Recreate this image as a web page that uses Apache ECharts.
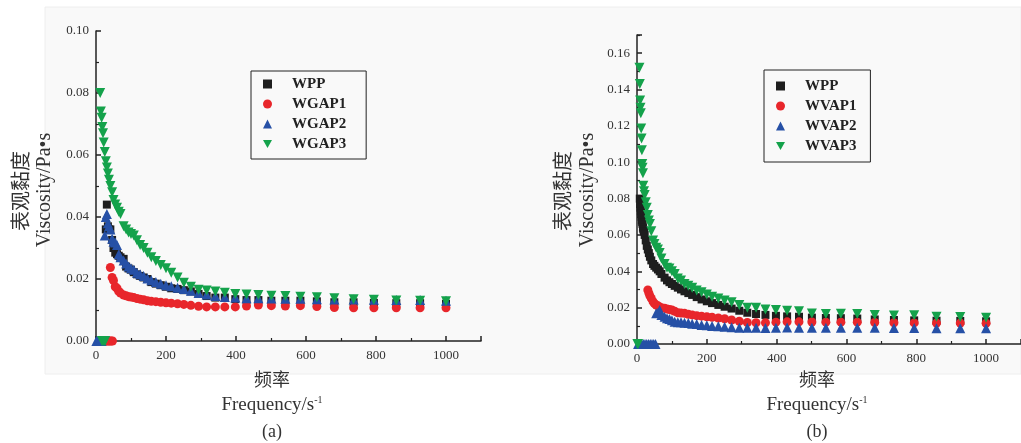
<!DOCTYPE html>
<html><head><meta charset="utf-8">
<script src="https://cdn.jsdelivr.net/npm/echarts@6/dist/echarts.min.js"></script>
<style>html,body{margin:0;padding:0;background:#fff}#c{width:1021px;height:443px}</style>
</head><body><div id="c"></div>
<script>
// ---- Panel (a) data ----
const freqA = [12,14,16,18,20,22,25,28,31,34,37,41,46,50,55,60,65,70,79,86,93,100,108,117,126,136,147,158,171,185,200,215,233,251,271,293,316,341,368,398,430,464,501,541,584,631,681,736,794,858,926,1000];
const wppA = [null,null,null,null,null,null,null,0.036,0.044,0.037,
 0.036,0.036,0.0326,0.030,0.0285,0.028,0.0275,0.027,0.0265,0.024,
 0.0234,0.023,0.0222,0.0215,0.021,0.0205,0.020,0.019,0.0185,0.018,
 0.0175,0.017,0.0168,0.0164,0.016,0.0152,0.0145,0.014,0.014,0.0135,
 0.0132,0.0132,0.013,0.013,0.013,0.0128,0.0125,0.0125,0.0123,0.0122,
 0.0122,0.012];
const wgap1 = [null,null,null,null,null,null,null,null,null,null,
 null,0.0237,0.0205,0.0195,0.0175,0.017,0.016,0.0155,0.0148,0.0146,
 0.0143,0.0142,0.014,0.0137,0.0135,0.0133,0.013,0.0128,0.0127,0.0125,
 0.0123,0.0122,0.012,0.0118,0.0115,0.0112,0.011,0.011,0.011,0.011,
 0.0113,0.0116,0.0114,0.0113,0.0114,0.0111,0.0108,0.0107,0.0107,0.0107,
 0.0107,0.0107];
const wgap2 = [null,null,null,null,null,null,0.034,0.040,0.041,0.038,
 0.037,0.036,0.033,0.032,0.0318,0.031,0.028,0.027,0.026,0.025,
 0.024,0.0235,0.023,0.022,0.0215,0.021,0.0202,0.0196,0.019,0.0185,
 0.018,0.0177,0.0172,0.0168,0.0162,0.0155,0.015,0.0145,0.0142,0.014,
 0.0138,0.0138,0.0137,0.0136,0.0136,0.0135,0.0134,0.0134,0.0133,0.0132,
 0.0132,0.013];
const wgap3 = [0.080,0.074,0.072,0.069,0.067,0.064,0.061,0.058,0.056,0.054,
 0.052,0.050,0.048,0.0455,0.044,0.043,0.0417,0.041,0.037,0.036,
 0.035,0.0345,0.034,0.0325,0.031,0.030,0.0285,0.027,0.0258,0.0245,
 0.0235,0.022,0.0205,0.0188,0.0175,0.0165,0.0163,0.016,0.0156,0.0152,
 0.015,0.0148,0.0146,0.0145,0.0143,0.0141,0.0138,0.0135,0.0133,0.0131,
 0.013,0.0128];
const zeroA_wgap1 = [27,31,35,39,43,47];
const zeroA_wgap2 = [1,4,8,12,16];
const zeroA_wgap3 = [17,20,23,26];

// ---- Panel (b) data ----
const freqB = [7,8,9,10,11,12,13,14,15,16,17,18,20,22,25,28,31,34,37,41,46,50,55,60,65,70,79,86,93,100,108,117,126,136,147,158,171,185,200,215,233,251,271,293,316,341,368,398,430,464,501,541,584,631,681,736,794,858,926,1000];
const wppB = [null,0.080,0.077,0.075,0.073,0.072,0.070,0.068,0.067,0.066,
 0.064,0.063,0.062,0.060,0.057,0.054,0.052,0.050,0.048,0.046,
 0.044,0.043,0.042,0.041,0.040,0.0385,0.0365,0.035,0.034,0.033,
 0.032,0.031,0.030,0.029,0.028,0.027,0.0258,0.0245,0.0235,0.0225,
 0.0215,0.0205,0.0195,0.0183,0.0172,0.0165,0.016,0.0155,0.0152,0.015,
 0.0145,0.0143,0.0142,0.014,0.0135,0.0132,0.013,0.0128,0.0127,0.0125];
const wvap1 = [null,null,null,null,null,null,null,null,null,null,
 null,null,null,null,null,null,0.0297,0.028,0.0265,0.0251,
 0.0233,0.0222,0.0214,0.021,0.0203,0.020,0.0196,0.0193,0.019,0.0187,
 0.018,0.0172,0.017,0.0169,0.0163,0.016,0.0156,0.0153,0.015,0.0147,
 0.0143,0.0139,0.0132,0.0125,0.0118,0.0117,0.0117,0.012,0.0122,0.0122,
 0.0121,0.012,0.012,0.012,0.0118,0.0117,0.0116,0.0115,0.0115,0.0114];
const wvap2 = [null,null,null,null,null,null,null,null,null,null,
 null,null,null,null,null,null,null,null,null,null,
 null,null,0.0169,0.017,0.0187,0.016,0.015,0.0141,0.0137,0.013,
 0.0123,0.012,0.0119,0.0117,0.0115,0.0112,0.011,0.0105,0.0103,0.0099,
 0.0097,0.0095,0.0092,0.009,0.009,0.009,0.0088,0.009,0.0091,0.009,
 0.009,0.009,0.009,0.009,0.0089,0.0088,0.0088,0.0087,0.0087,0.0086];
const wvap3 = [0.152,0.143,0.134,0.130,0.127,0.1185,0.113,0.1066,0.099,0.097,
 0.094,0.087,0.084,0.082,0.078,0.075,0.071,0.068,0.066,0.062,
 0.057,0.055,0.053,0.052,0.050,0.047,0.044,0.042,0.0416,0.040,
 0.0385,0.036,0.035,0.033,0.032,0.031,0.0295,0.0285,0.0272,0.026,
 0.025,0.024,0.023,0.0214,0.020,0.020,0.019,0.0187,0.0183,0.018,
 0.0168,0.0165,0.0167,0.0165,0.016,0.0157,0.0158,0.015,0.0148,0.0145];
const zeroB_wvap2 = [3,8,13,18,23,28,33,38,43,48,53];
const zeroB_wvap3 = [1,3];

const xTicks = [0,200,400,600,800,1000];
const legendA = ['WPP','WGAP1','WGAP2','WGAP3'];
const legendB = ['WPP','WVAP1','WVAP2','WVAP3'];

const C = {black:'#1e1e1e', red:'#e8262b', blue:'#2650a6', green:'#14a24b'};
const SERIF = '"Liberation Serif","Times New Roman",serif';
const CJK = '"Noto Sans CJK SC","Noto Sans",sans-serif';
const DOWN_TRI = 'path://M0,0 L10,0 L5,9 Z';

function pairs(freq, vals){ const out=[]; freq.forEach((f,i)=>{ if(vals[i]!=null) out.push([f, vals[i]]); }); return out; }
function zeros(fs){ return fs.map(f=>[f,0]); }

function mk(name, gi, data, color, symbol, size, rot){
  return {name, type:'scatter', xAxisIndex:gi, yAxisIndex:gi, data, symbol, symbolSize:size,
    symbolRotate: rot||0, symbolKeepAspect:true, itemStyle:{color, opacity:1}, emphasis:{disabled:true}, animation:false};
}

function xAx(gi){
  return {gridIndex:gi, type:'value', min:0, max:1100, interval:200,
    axisLine:{show:true, lineStyle:{color:'#222', width:1.5}},
    axisTick:{show:true, inside:true, length:5, lineStyle:{color:'#222', width:1.5}},
    minorTick:{show:true, splitNumber:2, length:3, lineStyle:{color:'#222', width:1.2}},
    splitLine:{show:false},
    axisLabel:{showMaxLabel:false, color:'#333', fontFamily:SERIF, fontSize:13, margin:8,
      formatter: v => xTicks.includes(v) ? String(v) : ''}};
}
function yAx(gi, max, showMax){
  return {gridIndex:gi, type:'value', min:0, max, interval:0.02,
    axisLine:{show:true, lineStyle:{color:'#222', width:1.5}},
    axisTick:{show:true, inside:true, length:5, lineStyle:{color:'#222', width:1.5}},
    minorTick:{show:true, splitNumber:2, length:3, lineStyle:{color:'#222', width:1.2}},
    splitLine:{show:false},
    axisLabel:{showMaxLabel:showMax, color:'#333', fontFamily:SERIF, fontSize:13, margin:7,
      formatter: v => v.toFixed(2)}};
}

function legend(names, left, top, pad){
  const data = names.map((n,i) => i === 3 ? {name:n, icon:DOWN_TRI} : {name:n});
  return {data, orient:'vertical', left, top, padding:pad, itemGap:0, itemWidth:9, itemHeight:9,
    borderColor:'#222', borderWidth:1, selectedMode:false,
    textStyle:{fontFamily:SERIF, fontWeight:'bold', fontSize:15, color:'#222', lineHeight:20, padding:[0,0,0,15]}};
}

function txt(x, y, text, font, rot){
  const e = {type:'text', x, y, z:10, style:{text, font, fill:'#333', align:'center', verticalAlign:'middle',
    textAlign:'center', textVerticalAlign:'middle'}};
  if (rot) e.rotation = rot;
  return e;
}
function freqLabel(x, y){
  return {type:'text', x, y, z:10, style:{text:'{a|Frequency/s}{b|-1}', align:'center', verticalAlign:'middle',
    textAlign:'center', textVerticalAlign:'middle', fill:'#333',
    rich:{a:{fontFamily:SERIF, fontSize:19, fill:'#333'}, b:{fontFamily:SERIF, fontSize:10, fill:'#333', padding:[0,0,10,0]}}}};
}

const option = {
  backgroundColor:'#ffffff',
  animation:false,
  grid:[
    {left:96, top:31, width:385, height:310, containLabel:false, outerBoundsMode:'none'},
    {left:637, top:35, width:384, height:309, containLabel:false, outerBoundsMode:'none'}
  ],
  xAxis:[xAx(0), xAx(1)],
  yAxis:[yAx(0, 0.10, true), yAx(1, 0.17, false)],
  legend:[legend(legendA, 251, 71, [3,20,5,12]), legend(legendB, 764, 70, [6,14,6,12])],
  graphic:[
    {type:'rect', z:-10, shape:{x:45, y:7, width:976, height:367}, style:{fill:'#f9f9f9', stroke:'#eeeeee', lineWidth:1}},
    txt(20, 191, '表观黏度', '20px '+CJK, Math.PI/2),
    txt(45, 190, 'Viscosity/Pa•s', '20px '+SERIF, Math.PI/2),
    txt(562, 191, '表观黏度', '20px '+CJK, Math.PI/2),
    txt(588, 190, 'Viscosity/Pa•s', '20px '+SERIF, Math.PI/2),
    txt(272, 379, '频率', '18px '+CJK),
    freqLabel(272, 405),
    txt(272, 432, '(a)', '18px '+SERIF),
    txt(817, 379, '频率', '18px '+CJK),
    freqLabel(817, 405),
    txt(817, 432, '(b)', '18px '+SERIF)
  ],
  series:[
    mk('WPP', 0, pairs(freqA, wppA), C.black, 'rect', 8),
    mk('WGAP1', 0, zeros(zeroA_wgap1).concat(pairs(freqA, wgap1)), C.red, 'circle', 9),
    mk('WGAP2', 0, zeros(zeroA_wgap2).concat(pairs(freqA, wgap2)), C.blue, 'triangle', 10),
    mk('WGAP3', 0, zeros(zeroA_wgap3).concat(pairs(freqA, wgap3)), C.green, 'triangle', 10, 180),
    mk('WPP', 1, pairs(freqB, wppB), C.black, 'rect', 8),
    mk('WVAP1', 1, pairs(freqB, wvap1), C.red, 'circle', 9),
    mk('WVAP2', 1, zeros(zeroB_wvap2).concat(pairs(freqB, wvap2)), C.blue, 'triangle', 10),
    mk('WVAP3', 1, zeros(zeroB_wvap3).concat(pairs(freqB, wvap3)), C.green, 'triangle', 10, 180)
  ]
};
const chart = echarts.init(document.getElementById('c'), null, {renderer:'canvas'});
chart.setOption(option);
</script></body></html>
